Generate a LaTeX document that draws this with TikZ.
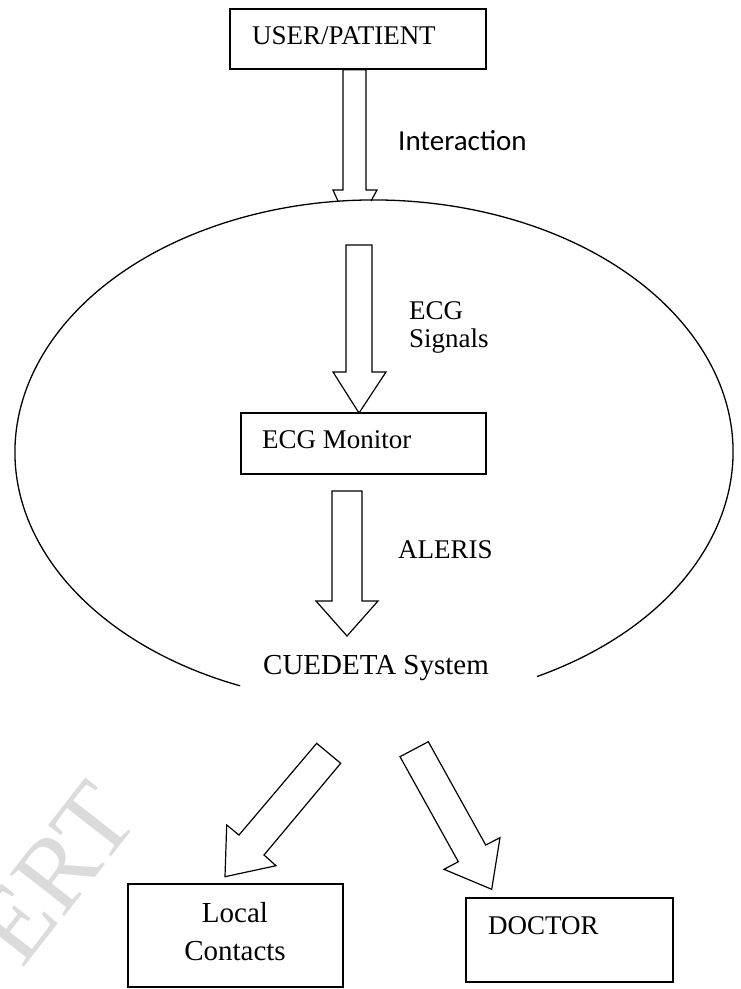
\documentclass[tikz,border=0pt]{standalone}
\usepackage{fontspec}
\setmainfont{Liberation Serif}
\newfontfamily\calibrifont{Carlito}
\begin{document}
\begin{tikzpicture}[x=1pt,y=-1pt,
  box/.style={draw=black,line width=1.4pt,inner sep=0pt},
  blockarrow/.style={draw=black,line width=1.2pt,line join=miter,fill=white},
  lbl/.style={inner sep=0pt,anchor=base west,font=\fontsize{27}{30}\selectfont},
  wm/.style={inner sep=0pt,font=\fontsize{105}{105}\selectfont,rotate=52}]
\useasboundingbox (0,0) rectangle (740,989);
\clip (0,0) rectangle (740,989);
% watermark
\node[wm,text=gray!28] (wmark) at (55,873) {ERT};
% ellipse with a gap at the bottom
\draw[line width=1.3pt] (374,452) ++(63:359 and 252) arc[start angle=63,end angle=-248.1,x radius=359,y radius=252];
% boxes
\node[box,minimum width=256pt,minimum height=60pt] (user) at (358,39) {};
\node[lbl] (usertext) at (252,44) {USER/PATIENT};
\node[box,minimum width=245pt,minimum height=61pt] (ecg) at (363.5,443.5) {};
\node[lbl] (ecgtext) at (262,448) {ECG Monitor};
\node[box,minimum width=215pt,minimum height=103pt] (local) at (235.5,935.5) {};
\node[inner sep=0pt,anchor=base,font=\fontsize{29}{30}\selectfont] (localtext1) at (235,922) {Local};
\node[inner sep=0pt,anchor=base,font=\fontsize{29}{30}\selectfont] (localtext2) at (235,960) {Contacts};
\node[box,minimum width=207pt,minimum height=84pt] (doctor) at (569.5,940) {};
\node[lbl] (doctortext) at (488,934) {DOCTOR};
% arrows
\draw[line width=1.2pt,line join=miter] (338,201) -- (333,190) -- (343,190) -- (user.south -| 343,0) -- (user.south -| 366,0) -- (366,190) -- (377,190) -- (371,201);
\draw[blockarrow] (346,245) -- (372,245) -- (372,372) -- (386,372) -- (359,413) -- (333,372) -- (346,372) -- cycle;
\draw[blockarrow] (332,491) -- (362,491) -- (362,601) -- (378,601) -- (347,636) -- (316,601) -- (332,601) -- cycle;
\draw[blockarrow] (316.7,743.3) -- (340.7,763.3) -- (264,855) -- (276,865.7) -- (225,876.7) -- (226.7,825) -- (239,835) -- cycle;
\draw[blockarrow] (428.3,741.7) -- (400,756.7) -- (458.3,861.7) -- (444,869.3) -- (491.7,889.3) -- (500,837.7) -- (485.7,845) -- cycle;
% labels
\node[inner sep=0pt,anchor=base west,font=\calibrifont\fontsize{29}{30}\selectfont] (interaction) at (398,150) {Interaction};
\node[lbl] (ecglbl1) at (409,319) {ECG};
\node[lbl] (ecglbl2) at (409,347) {Signals};
\node[lbl] (aleris) at (398,558) {ALERIS};
\node[inner sep=0pt,anchor=base west,font=\fontsize{29}{30}\selectfont] (cuedeta) at (263,674) {CUEDETA System};
\end{tikzpicture}
\end{document}
